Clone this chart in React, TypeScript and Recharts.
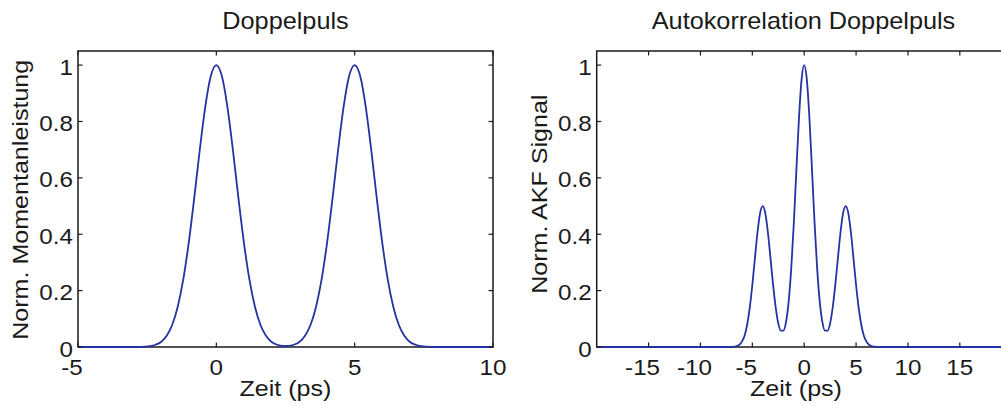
import { LineChart, Line, XAxis, YAxis, ReferenceArea } from 'recharts';

// Doppelpuls (left panel)
const pulseTime = [
  -5, -3, -2.8, -2.6, -2.4, -2.2, -2.0, -1.8, -1.6, -1.4, -1.2, -1.0, -0.8, -0.6, -0.4, -0.2,
  0, 0.2, 0.4, 0.6, 0.8, 1.0, 1.2, 1.4, 1.6, 1.8, 2.0, 2.2, 2.4, 2.6, 2.8, 3.0,
  3.2, 3.4, 3.6, 3.8, 4.0, 4.2, 4.4, 4.6, 4.8, 5.0, 5.2, 5.4, 5.6, 5.8, 6.0, 6.2,
  6.4, 6.6, 6.8, 7.0, 7.2, 7.4, 7.6, 7.8, 10,
];
const pulsePower = [
  0, 0, 0, 0.001, 0.003, 0.008, 0.018, 0.039, 0.077, 0.141, 0.237, 0.368, 0.527, 0.698, 0.852, 0.961,
  1, 0.961, 0.852, 0.698, 0.527, 0.368, 0.237, 0.141, 0.077, 0.039, 0.018, 0.008, 0.004, 0.004, 0.008, 0.018,
  0.039, 0.077, 0.141, 0.237, 0.368, 0.527, 0.698, 0.852, 0.961, 1, 0.961, 0.852, 0.698, 0.527, 0.368, 0.237,
  0.141, 0.077, 0.039, 0.018, 0.008, 0.003, 0.001, 0, 0,
];

// Autokorrelation (right panel)
const akfTime = [
  -20, -7.5, -7, -6.75, -6.5, -6.25, -6, -5.75, -5.5, -5.25, -5, -4.75, -4.5, -4.25, -4, -3.75,
  -3.5, -3.25, -3, -2.75, -2.5, -2.25, -2, -1.75, -1.5, -1.25, -1, -0.75, -0.5, -0.25,
  0, 0.25, 0.5, 0.75, 1, 1.25, 1.5, 1.75, 2, 2.25, 2.5, 2.75, 3, 3.25, 3.5, 3.75,
  4, 4.25, 4.5, 4.75, 5, 5.25, 5.5, 5.75, 6, 6.25, 6.5, 6.75, 7, 7.5, 20,
];
const akfSignal = [
  0, 0, 0, 0.001, 0.003, 0.008, 0.019, 0.04, 0.079, 0.139, 0.22, 0.315, 0.407, 0.475, 0.5, 0.475,
  0.407, 0.315, 0.221, 0.141, 0.084, 0.058, 0.058, 0.089, 0.16, 0.278, 0.44, 0.63, 0.814, 0.95,
  1, 0.95, 0.814, 0.63, 0.44, 0.278, 0.16, 0.089, 0.058, 0.058, 0.084, 0.141, 0.221, 0.315, 0.407, 0.475,
  0.5, 0.475, 0.407, 0.315, 0.22, 0.139, 0.079, 0.04, 0.019, 0.008, 0.003, 0.001, 0, 0, 0,
];

const pulseTicks = [-5, 0, 5, 10];
const akfTicks = [-15, -10, -5, 0, 5, 10, 15];
const yTicks = [0, 0.2, 0.4, 0.6, 0.8, 1];

const pulseData = pulseTime.map((t, i) => ({ t, v: pulsePower[i] }));
const akfData = akfTime.map((t, i) => ({ t, v: akfSignal[i] }));

const FONT = '"Liberation Sans", Arial, Helvetica, sans-serif';
const INK = '#1a1a1a';
const BLUE = '#2433a1';
const TOP = 51;
const BOTTOM = 347;
const TICK = 4.5;

function Label({ x, y, size = 22, sx = 1.1, rotate = 0, anchor = 'middle', children }: any) {
  return (
    <text
      transform={`translate(${x},${y}) rotate(${rotate}) scale(${sx},1)`}
      textAnchor={anchor}
      fontSize={size}
      fontFamily={FONT}
      fill={INK}
    >
      {children}
    </text>
  );
}

const xTick = (props: any) => {
  const { x, payload } = props;
  const v = payload.value;
  return (
    <g>
      <line x1={x} x2={x} y1={BOTTOM} y2={BOTTOM - TICK} stroke={INK} strokeWidth={1.2} />
      <line x1={x} x2={x} y1={TOP} y2={TOP + TICK} stroke={INK} strokeWidth={1.2} />
      <Label x={v < 0 ? x - 6 : x} y={375}>{String(v)}</Label>
    </g>
  );
};

const makeYTick = (left: number, right: number) => (props: any) => {
  const { y, payload } = props;
  return (
    <g>
      <line x1={left} x2={left + TICK} y1={y} y2={y} stroke={INK} strokeWidth={1.2} />
      <line x1={right} x2={right - TICK} y1={y} y2={y} stroke={INK} strokeWidth={1.2} />
      <Label x={left - 5} y={y + 9.5} anchor="end">{String(payload.value)}</Label>
    </g>
  );
};

function Panel({ data, domain, ticks, width, yAxisWidth, right }: any) {
  return (
    <LineChart
      width={width}
      height={406}
      data={data}
      margin={{ top: TOP, right: width - right, bottom: 9, left: 0 }}
    >
      <XAxis
        type="number"
        dataKey="t"
        domain={domain}
        ticks={ticks}
        allowDataOverflow
        height={50}
        axisLine={false}
        tickLine={false}
        tick={xTick}
        interval={0}
      />
      <YAxis
        type="number"
        domain={[0, 1.05]}
        ticks={yTicks}
        width={yAxisWidth}
        axisLine={false}
        tickLine={false}
        tick={makeYTick(yAxisWidth, right)}
        interval={0}
      />
      <ReferenceArea
        x1={domain[0]}
        x2={domain[1]}
        y1={0}
        y2={1.05}
        fill="none"
        stroke={INK}
        strokeWidth={1.5}
        fillOpacity={0}
      />
      <Line
        type="monotone"
        dataKey="v"
        stroke={BLUE}
        strokeWidth={1.8}
        dot={false}
        isAnimationActive={false}
      />
    </LineChart>
  );
}

export default function App() {
  return (
    <div
      style={{
        position: 'absolute',
        left: 0,
        top: 0,
        width: 1001,
        height: 406,
        overflow: 'hidden',
        background: '#fff',
      }}
    >
      <div style={{ position: 'absolute', left: 0, top: 0 }}>
        <Panel data={pulseData} domain={[-5, 10]} ticks={pulseTicks} width={520} yAxisWidth={78} right={493} />
      </div>
      <div style={{ position: 'absolute', left: 500, top: 0 }}>
        <Panel data={akfData} domain={[-20, 20]} ticks={akfTicks} width={540} yAxisWidth={96.7} right={511.7} />
      </div>

      {/* titles and axis labels */}
      <svg width={1001} height={406} style={{ position: 'absolute', left: 0, top: 0, pointerEvents: 'none' }}>
        <Label x={285.5} y={29.3} size={23}>Doppelpuls</Label>
        <Label x={803.5} y={29.3} size={23}>Autokorrelation Doppelpuls</Label>
        <Label x={285.4} y={395.5} sx={1.14}>Zeit (ps)</Label>
        <Label x={796} y={395.5} sx={1.14}>Zeit (ps)</Label>
        <Label x={27.5} y={199.8} sx={1.14} rotate={-90}>Norm. Momentanleistung</Label>
        <Label x={546.5} y={194.2} sx={1.14} rotate={-90}>Norm. AKF Signal</Label>
      </svg>
    </div>
  );
}
